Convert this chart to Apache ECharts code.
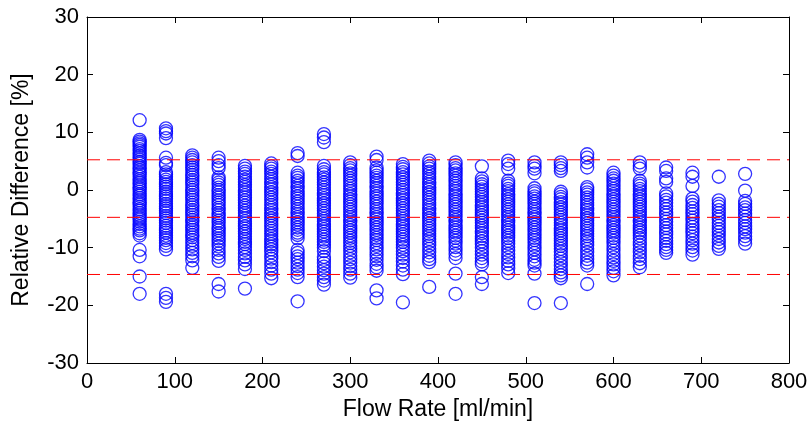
<!DOCTYPE html>
<html>
<head>
<meta charset="utf-8">
<script src="https://cdn.jsdelivr.net/npm/echarts@6/dist/echarts.min.js"></script>
<style>
html,body{margin:0;padding:0;background:#fff;}
#chart{width:811px;height:428px;}
</style>
</head>
<body>
<div id="chart"></div>
<script>
// Flow rates (x positions of the columns)
const flowRates = [60, 90, 120, 150, 180, 210, 240, 270, 300, 330, 360, 390, 420, 450, 480, 510, 540, 570, 600, 630, 660, 690, 720, 750];

// Relative differences [%] per flow rate
const d60  = [12.1, 8.7, 8.4, 8.1, 7.8, 7.5, 7.1, 6.8, 6.4, 6.0, 5.7, 5.3, 4.9, 4.6, 4.1, 3.8, 3.4, 3.0, 2.7, 2.3, 1.9, 1.5, 1.2, 0.8, 0.4, 0.1, -0.3, -0.7, -1.0, -1.4, -1.8, -2.2, -2.5, -2.9, -3.3, -3.6, -4.0, -4.4, -4.8, -5.1, -5.5, -5.9, -6.3, -6.7, -7.0, -7.5, -7.9, -10.4, -11.5, -15.0, -18.0];
const d90  = [10.7, 10.2, 9.8, 9.0, 5.6, 4.7, 4.3, 3.1, 2.7, 2.3, 1.8, 1.4, 1.0, 0.6, 0.2, -0.3, -0.7, -1.1, -1.5, -1.9, -2.4, -2.8, -3.2, -3.6, -4.0, -4.5, -4.9, -5.3, -5.7, -6.2, -6.6, -7.0, -7.4, -7.9, -8.3, -8.7, -9.2, -9.7, -10.3, -18.0, -18.7, -19.4];
const d120 = [6.0, 5.6, 5.2, 4.8, 4.3, 3.9, 3.5, 3.0, 2.6, 2.2, 1.7, 1.3, 0.9, 0.4, 0.0, -0.4, -0.9, -1.3, -1.7, -2.2, -2.6, -3.0, -3.5, -3.9, -4.3, -4.8, -5.2, -5.6, -6.1, -6.5, -6.9, -7.4, -7.8, -8.2, -8.7, -9.2, -9.7, -10.3, -10.9, -11.5, -12.2, -13.5];
const d150 = [5.6, 5.0, 4.3, 3.8, 2.2, 1.8, 1.3, 0.9, 0.4, 0.0, -0.4, -0.9, -1.3, -1.8, -2.2, -2.6, -3.1, -3.5, -4.0, -4.4, -4.8, -5.3, -5.7, -6.2, -6.6, -7.0, -7.5, -7.9, -8.4, -8.8, -9.3, -9.8, -10.4, -11.0, -11.6, -12.3, -16.3, -17.6];
const d180 = [4.2, 3.7, 3.2, 2.8, 2.3, 1.8, 1.4, 0.9, 0.5, 0.0, -0.4, -0.9, -1.3, -1.8, -2.2, -2.7, -3.1, -3.6, -4.0, -4.5, -4.9, -5.4, -5.8, -6.3, -6.7, -7.2, -7.6, -8.1, -8.5, -9.0, -9.4, -9.9, -10.4, -11.0, -11.6, -12.2, -12.9, -13.7, -17.1];
const d210 = [4.6, 4.1, 3.7, 3.2, 2.8, 2.3, 1.9, 1.4, 1.0, 0.5, 0.1, -0.4, -0.8, -1.3, -1.7, -2.2, -2.6, -3.1, -3.5, -4.0, -4.4, -4.9, -5.3, -5.8, -6.2, -6.7, -7.1, -7.6, -8.0, -8.5, -8.9, -9.4, -9.8, -10.3, -10.8, -11.4, -11.9, -12.5, -13.1, -13.8, -14.5, -15.3];
const d240 = [6.4, 5.9, 3.0, 2.5, 2.1, 1.6, 1.2, 0.7, 0.3, -0.2, -0.6, -1.1, -1.5, -2.0, -2.4, -2.9, -3.3, -3.8, -4.2, -4.7, -5.1, -5.6, -6.0, -6.5, -6.9, -7.4, -7.8, -8.4, -10.4, -10.9, -11.5, -12.0, -12.6, -13.2, -13.8, -14.4, -15.1, -19.3];
const d270 = [9.7, 9.1, 8.3, 4.2, 3.6, 3.1, 2.7, 2.2, 1.8, 1.3, 0.9, 0.4, 0.0, -0.5, -0.9, -1.4, -1.8, -2.3, -2.7, -3.2, -3.6, -4.1, -4.5, -5.0, -5.4, -5.9, -6.3, -6.8, -7.2, -7.7, -8.1, -8.6, -9.0, -9.5, -10.0, -10.6, -11.6, -12.1, -12.7, -13.3, -13.9, -14.5, -15.1, -15.7, -16.4];
const d300 = [4.8, 4.3, 3.8, 3.4, 2.9, 2.5, 2.0, 1.6, 1.1, 0.7, 0.2, -0.2, -0.7, -1.1, -1.6, -2.0, -2.5, -2.9, -3.4, -3.8, -4.3, -4.7, -5.2, -5.6, -6.1, -6.5, -7.0, -7.4, -7.9, -8.3, -8.8, -9.2, -9.7, -10.2, -10.8, -11.4, -12.0, -12.6, -13.2, -13.8, -14.5, -15.2];
const d330 = [5.8, 5.2, 3.9, 3.4, 3.0, 2.5, 2.1, 1.6, 1.2, 0.7, 0.3, -0.2, -0.6, -1.1, -1.5, -2.0, -2.4, -2.9, -3.3, -3.8, -4.2, -4.7, -5.1, -5.6, -6.0, -6.5, -6.9, -7.4, -7.8, -8.3, -8.7, -9.2, -9.7, -10.3, -10.9, -11.5, -12.1, -12.8, -13.4, -14.0, -17.4, -18.8];
const d360 = [4.5, 4.0, 3.6, 3.1, 2.7, 2.2, 1.8, 1.3, 0.9, 0.4, 0.0, -0.5, -0.9, -1.4, -1.8, -2.3, -2.7, -3.2, -3.6, -4.1, -4.5, -5.0, -5.4, -5.9, -6.3, -6.8, -7.2, -7.7, -8.1, -8.6, -9.0, -9.5, -10.0, -10.6, -11.2, -11.8, -12.4, -13.1, -13.8, -14.6, -19.5];
const d390 = [5.1, 4.6, 4.1, 3.7, 3.2, 2.8, 2.3, 1.9, 1.4, 1.0, 0.5, 0.1, -0.4, -0.8, -1.3, -1.7, -2.2, -2.6, -3.1, -3.5, -4.0, -4.4, -4.9, -5.3, -5.8, -6.2, -6.7, -7.1, -7.6, -8.0, -8.5, -9.0, -9.6, -10.2, -10.8, -11.4, -12.0, -12.5, -16.8];
const d420 = [4.8, 4.3, 3.8, 3.4, 2.9, 2.5, 2.0, 1.6, 1.1, 0.7, 0.2, -0.2, -0.7, -1.1, -1.6, -2.0, -2.5, -2.9, -3.4, -3.8, -4.3, -4.7, -5.2, -5.6, -6.1, -6.5, -7.0, -7.4, -7.9, -8.3, -8.8, -9.3, -9.9, -10.5, -11.1, -11.8, -14.5, -18.0];
const d450 = [4.1, 2.0, 1.5, 1.0, 0.6, 0.1, -0.3, -0.8, -1.2, -1.7, -2.1, -2.6, -3.0, -3.5, -3.9, -4.4, -4.8, -5.3, -5.7, -6.2, -6.6, -7.1, -7.5, -8.0, -8.4, -8.9, -9.4, -10.0, -10.6, -11.2, -11.8, -12.4, -12.9, -15.1, -16.3];
const d480 = [5.1, 4.5, 3.7, 1.6, 1.1, 0.7, 0.2, -0.2, -0.7, -1.1, -1.6, -2.0, -2.5, -2.9, -3.4, -3.8, -4.3, -4.7, -5.2, -5.6, -6.1, -6.5, -7.0, -7.4, -7.9, -8.3, -8.8, -9.3, -9.9, -10.5, -11.1, -11.7, -12.3, -12.9, -13.6, -14.4];
const d510 = [4.8, 4.2, 3.7, 2.9, 0.3, -0.2, -0.6, -1.1, -1.5, -2.0, -2.4, -2.9, -3.3, -3.8, -4.2, -4.7, -5.1, -5.6, -6.0, -6.5, -6.9, -7.4, -7.8, -8.3, -8.7, -9.2, -9.7, -10.3, -10.9, -11.5, -12.1, -12.6, -13.1, -14.5, -19.6];
const d540 = [4.8, 4.3, 3.8, 3.3, -0.3, -0.7, -1.2, -1.6, -2.1, -2.5, -3.0, -3.4, -3.9, -4.3, -4.8, -5.2, -5.7, -6.1, -6.6, -7.0, -7.5, -7.9, -8.4, -8.8, -9.3, -9.7, -10.2, -10.7, -11.3, -11.9, -12.5, -13.1, -13.7, -14.3, -14.8, -15.3, -19.6];
const d570 = [6.2, 5.6, 4.8, 3.9, 0.5, 0.1, -0.4, -0.8, -1.3, -1.7, -2.2, -2.6, -3.1, -3.5, -4.0, -4.4, -4.9, -5.3, -5.8, -6.2, -6.7, -7.1, -7.6, -8.0, -8.5, -9.0, -9.6, -10.2, -10.8, -11.4, -12.0, -12.6, -13.1, -16.3];
const d600 = [3.0, 2.5, 2.0, 1.6, 1.1, 0.7, 0.2, -0.2, -0.7, -1.1, -1.6, -2.0, -2.5, -2.9, -3.4, -3.8, -4.3, -4.7, -5.2, -5.6, -6.1, -6.5, -7.0, -7.4, -7.9, -8.3, -8.8, -9.3, -9.9, -10.5, -11.1, -11.7, -12.3, -12.9, -13.5, -14.1, -14.8];
const d630 = [4.8, 4.2, 3.7, 1.6, 1.1, 0.7, 0.2, -0.2, -0.7, -1.1, -1.6, -2.0, -2.5, -2.9, -3.4, -3.8, -4.3, -4.7, -5.2, -5.6, -6.1, -6.5, -7.0, -7.4, -7.9, -8.4, -9.0, -9.6, -10.2, -10.8, -11.4, -12.0, -12.7, -13.4];
const d660 = [3.9, 3.3, 2.0, 1.4, -0.6, -1.1, -1.7, -2.2, -2.8, -3.3, -3.9, -4.4, -5.0, -5.5, -6.1, -6.6, -7.2, -7.7, -8.3, -8.8, -9.4, -9.9, -10.4, -10.9];
const d690 = [3.0, 2.3, 0.7, -1.5, -2.0, -2.6, -3.1, -3.7, -4.2, -4.8, -5.3, -5.9, -6.4, -7.0, -7.5, -8.1, -8.7, -9.3, -9.9, -10.5, -11.2];
const d720 = [2.3, -1.8, -2.4, -2.9, -3.5, -4.0, -4.6, -5.1, -5.7, -6.2, -6.8, -7.3, -7.9, -8.5, -9.1, -9.7, -10.2];
const d750 = [2.8, -0.1, -1.9, -2.4, -3.0, -3.5, -4.1, -4.6, -5.2, -5.7, -6.3, -6.8, -7.4, -8.0, -8.6, -9.3];

const columns = [d60, d90, d120, d150, d180, d210, d240, d270, d300, d330, d360, d390, d420, d450, d480, d510, d540, d570, d600, d630, d660, d690, d720, d750];

// Mean and limits of agreement [%]
const limitLines = [5.24, -4.74, -14.65];

// Axis tick settings
const xTicks = {min: 0, max: 800, interval: 100};
const yTicks = {min: -30, max: 30, interval: 10};

const points = [];
columns.forEach((col, i) => col.forEach(v => points.push([flowRates[i], v])));

const font = 'Liberation Sans, Arial, Helvetica, sans-serif';
const tickFs = 22;
const nameFs = 23;

const lineSeries = limitLines.map(v => ({
  type: 'line',
  xAxisIndex: 0, yAxisIndex: 0,
  data: [[xTicks.min, v], [xTicks.max, v]],
  symbol: 'none',
  silent: true,
  z: 5,
  lineStyle: {color: '#ff0000', width: 1, type: [13, 7]}
}));

const tick = {show: true, inside: true, length: 6, lineStyle: {color: '#000', width: 1}};
const line = {show: true, onZero: false, lineStyle: {color: '#000', width: 1}};

const chart = echarts.init(document.getElementById('chart'), null, {renderer: 'canvas'});
chart.setOption({
  animation: false,
  backgroundColor: '#fff',
  grid: {left: 87, right: 22, top: 17, bottom: 65, containLabel: false},
  xAxis: [{
    type: 'value', min: xTicks.min, max: xTicks.max, interval: xTicks.interval,
    position: 'bottom',
    name: 'Flow Rate [ml/min]', nameLocation: 'middle', nameGap: 35,
    nameTextStyle: {color: '#000', fontSize: nameFs, fontFamily: font},
    axisLine: line, axisTick: tick,
    axisLabel: {color: '#000', fontSize: tickFs, fontFamily: font, margin: 8},
    splitLine: {show: false}
  }, {
    type: 'value', min: xTicks.min, max: xTicks.max, interval: xTicks.interval,
    position: 'top',
    axisLine: line, axisTick: tick,
    axisLabel: {show: false},
    splitLine: {show: false}
  }],
  yAxis: [{
    type: 'value', min: yTicks.min, max: yTicks.max, interval: yTicks.interval,
    position: 'left',
    name: 'Relative Difference [%]', nameLocation: 'middle', nameGap: 54,
    nameTextStyle: {color: '#000', fontSize: nameFs, fontFamily: font},
    axisLine: line, axisTick: tick,
    axisLabel: {color: '#000', fontSize: tickFs, fontFamily: font, margin: 8},
    splitLine: {show: false}
  }, {
    type: 'value', min: yTicks.min, max: yTicks.max, interval: yTicks.interval,
    position: 'right',
    axisLine: line, axisTick: tick,
    axisLabel: {show: false},
    splitLine: {show: false}
  }],
  series: [{
    type: 'scatter',
    xAxisIndex: 0, yAxisIndex: 0,
    data: points,
    symbol: 'circle',
    symbolSize: 13,
    z: 2,
    itemStyle: {color: 'rgba(0,0,0,0)', borderColor: '#0000ff', borderWidth: 1.3}
  }].concat(lineSeries)
});
</script>
</body>
</html>
